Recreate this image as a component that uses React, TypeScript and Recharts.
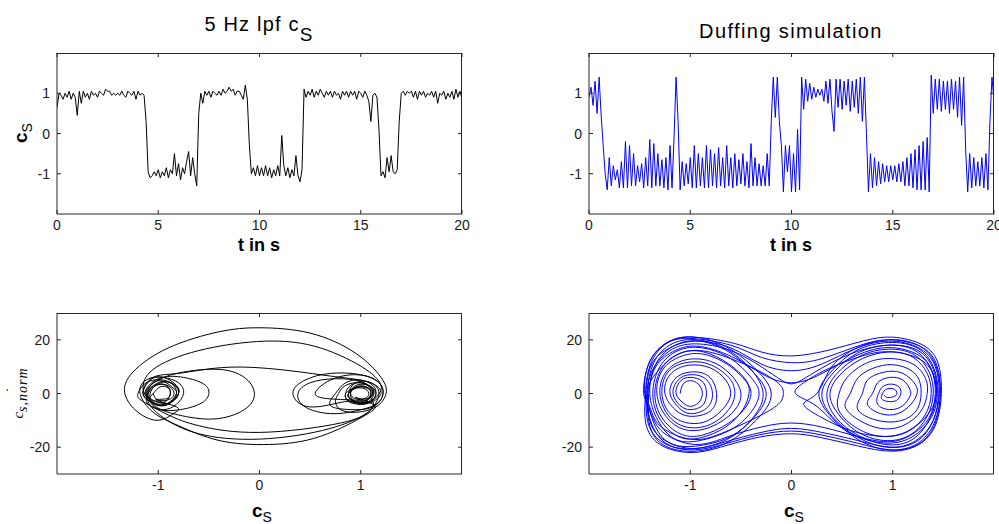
import React from "react";
import { LineChart, Line, XAxis, YAxis } from "recharts";

const FONT = '"Liberation Sans", Arial, Helvetica, sans-serif';
const AXIS = "#262626";
const TICK_LEN = 4;
const X_GAP = 5;
const Y_GAP = 7;
const PLOT_TOP = 53;
const Y_AXIS_W = 57;
const CHART_H = 260;
const X_AXIS_H = 46;

// both signals sampled every 0.1 s, t = 0 .. 20
const lpfSignal = [
  0.65, 1.0, 0.95, 0.85, 1.0, 0.9, 1.05, 0.85, 1.0, 0.9,
  0.45, 1.05, 0.75, 1.05, 0.9, 1.0, 0.85, 1.05, 0.95, 1.0,
  0.9, 1.05, 1.0, 0.95, 1.1, 1.05, 1.05, 0.95, 1.0, 0.95,
  1.0, 0.95, 1.05, 0.95, 0.9, 1.05, 1.0, 0.95, 1.05, 0.85,
  1.05, 0.95, 1.0, 0.95, 0.3, -0.95, -1.1, -1.05, -0.95, -1.05,
  -0.9, -1.1, -0.95, -1.05, -0.85, -1.1, -0.9, -1.0, -0.5, -1.05,
  -0.75, -1.15, -0.85, -1.0, -0.7, -0.45, -1.05, -0.6, -1.0, -1.3,
  0.5, 1.0, 0.75, 1.05, 0.95, 1.05, 0.9, 1.05, 1.0, 0.95,
  1.05, 0.95, 1.1, 1.0, 1.05, 1.15, 1.05, 1.1, 0.95, 1.05,
  1.05, 0.95, 0.85, 1.2, 0.85, -0.3, -1.0, -0.85, -1.05, -0.8,
  -1.05, -0.85, -1.05, -0.8, -1.05, -0.85, -1.1, -0.9, -1.05, -0.8,
  -1.05, -0.05, -0.8, -1.05, -0.85, -1.1, -0.9, -1.05, -0.55, -1.05,
  -1.2, -0.9, 1.1, 0.9, 1.05, 0.95, 1.1, 0.9, 1.05, 0.95,
  1.1, 1.0, 0.9, 1.05, 0.95, 1.05, 0.9, 1.05, 0.95, 1.0,
  0.85, 1.05, 0.95, 1.05, 0.9, 1.05, 0.95, 1.05, 0.85, 1.05,
  1.0, 0.9, 1.05, 0.95, 0.8, 0.3, 0.95, 1.0, 0.9, 0.1,
  -1.05, -0.95, -1.1, -0.6, -0.95, -0.55, -0.95, -1.0, -0.9, 0.3,
  1.0, 1.05, 0.95, 1.05, 1.0, 1.05, 0.9, 1.05, 0.85, 1.05,
  0.95, 1.05, 0.9, 1.0, 0.95, 1.05, 0.9, 1.05, 0.75, 1.0,
  0.95, 1.05, 0.85, 1.0, 0.9, 1.05, 0.85, 1.1, 0.9, 1.05,
  0.85,
];

const duffingSignal = [
  0.9, 1.15, 0.7, 1.3, 0.5, 1.4, 0.45, -0.3, -1.0, -1.4,
  -0.6, -1.3, -0.8, -1.15, -0.9, -1.35, -0.7, -1.35, -0.2, -1.35,
  -0.3, -1.3, -0.5, -1.3, -0.8, -1.2, -0.75, -1.35, -0.6, -1.3,
  -0.15, -1.35, -0.25, -1.3, -0.5, -1.3, -0.65, -1.35, -0.6, -1.4,
  -0.3, -1.35, -0.1, 1.4, 0.3, -1.4, -0.7, -1.3, -0.75, -1.25,
  -0.6, -1.35, -0.3, -1.35, -0.5, -1.3, -0.6, -1.35, -0.3, -1.35,
  -0.4, -1.3, -0.5, -1.35, -0.35, -1.3, -0.6, -1.35, -0.3, -1.3,
  -0.6, -1.35, -0.5, -1.3, -0.65, -1.25, -0.5, -1.3, -0.7, -1.35,
  -0.25, -1.3, -0.6, -1.3, -0.75, -1.3, -0.8, -1.3, -0.5, -1.3,
  0.3, 1.4, 0.4, 1.4, 0.3, -0.3, -1.45, -0.3, -0.95, -0.3,
  -1.45, -0.5, -1.45, 0.1, -1.4, 1.4, 0.6, 1.35, 0.8, 1.25,
  0.85, 1.15, 0.9, 1.1, 0.95, 1.1, 0.8, 1.3, 0.75, 1.35,
  0.55, 0.05, 1.35, 0.65, 1.35, 0.6, 1.3, 0.7, 1.35, 0.55,
  1.3, 0.65, 1.35, 0.5, 1.4, 0.3, 1.4, 0.0, -1.45, -0.5,
  -1.35, -0.6, -1.3, -0.7, -1.25, -0.75, -1.2, -0.8, -1.2, -0.8,
  -1.15, -0.8, -1.2, -0.75, -1.2, -0.7, -1.3, -0.6, -1.3, -0.5,
  -1.35, -0.4, -1.4, -0.3, -1.4, -0.2, -1.4, -0.1, -1.45, 1.45,
  0.5, 1.35, 0.6, 1.35, 0.55, 1.3, 0.6, 1.3, 0.5, 1.35,
  0.6, 1.3, 0.4, 1.4, 0.2, 1.4, -0.4, -1.45, -0.5, -1.35,
  -0.6, -1.3, -0.7, -1.3, -0.6, -1.35, -0.5, -1.4, 0.3, 1.4,
  0.8,
];

const timeTicks = [0, 5, 10, 15, 20];
const signalTicks = [-1, 0, 1];
const phaseXTicks = [-1, 0, 1];
const phaseYTicks = [-20, 0, 20];

// phase portrait of the filtered signal: [c_s, c_s' normalised]
const lpfPhase: [number, number][] = [
  [-1.12, 0], [-1.05, 4], [-0.95, 4.5], [-0.85, 2], [-0.82, 0], [-0.88, -3], [-0.98, -4.5], [-1.08, -3],
  [-1.15, 0], [-1.08, 5], [-0.95, 6], [-0.8, 4], [-0.75, 0], [-0.82, -4], [-0.95, -6], [-1.1, -4],
  [-1.1, 0], [-1.02, 3], [-0.92, 3], [-0.88, 0], [-0.93, -3], [-1.02, -3],
  [-1.13, 0], [-1.0, 5.5], [-0.75, 6], [-0.55, 3.5], [-0.5, 0], [-0.57, -3.5], [-0.78, -6], [-1.02, -5.5],
  [-1.08, 0], [-0.98, 4], [-0.85, 3.5], [-0.8, 0], [-0.86, -3], [-0.98, -3.5],
  [-1.12, 0], [-1.0, 5], [-0.75, 8], [-0.4, 9], [-0.15, 6], [-0.05, 0], [-0.15, -6], [-0.45, -9.5], [-0.8, -8], [-1.02, -5],
  [-1.1, 0], [-1.0, 4], [-0.88, 4], [-0.82, 0], [-0.9, -4], [-1.02, -4],
  [-1.15, 0], [-1.05, 6], [-0.8, 7.5], [-0.3, 9.8], [0.3, 8.5], [0.7, 6.5], [1.0, 5], [1.15, 3], [1.2, 0], [1.12, -3], [1.0, -4], [0.88, -3],
  [0.85, 0], [0.9, 3], [1.0, 4], [1.1, 2.5], [1.13, 0], [1.08, -3], [0.98, -3.5], [0.9, -2],
  [0.88, 0], [0.95, 2.5], [1.05, 2.5], [1.1, 0], [1.05, -2.5], [0.95, -2.5], [0.7, -2],
  [0.55, 0], [0.7, 5], [0.95, 7], [1.15, 5], [1.22, 0], [1.12, -5], [0.9, -6], [0.7, -4.5],
  [0.75, 0], [0.85, 4], [1.0, 5], [1.12, 3], [1.15, 0], [1.1, -3], [0.98, -4], [0.85, -3], [0.5, -5],
  [0.33, 0], [0.45, 5], [0.7, 7.5], [1.0, 7], [1.18, 4], [1.22, 0], [1.15, -4], [0.95, -6.5], [0.7, -7.5], [0.45, -5],
  [0.38, 0], [0.5, 4], [0.75, 5.5], [1.0, 4.5], [1.1, 2], [1.12, 0], [1.05, -2.5], [0.95, -3], [0.88, -1.5],
  [0.88, 0], [0.95, 2], [1.05, 2.5], [1.12, 0], [1.05, -2], [0.95, -2],
  [0.9, 0], [0.95, 3], [1.08, 3], [1.15, 0], [1.08, -3], [0.93, -3],
  [0.88, 0], [0.95, 4], [1.1, 4], [1.18, 0], [1.1, -6], [0.8, -11], [0.0, -14.5], [-0.6, -12], [-0.9, -8], [-1.15, -3],
  [-1.2, 0], [-1.12, 4], [-0.95, 5], [-0.82, 2.5], [-0.8, 0], [-0.87, -3], [-1.0, -4], [-1.08, -2],
  [-1.05, 0], [-0.98, 2.5], [-0.9, 2], [-0.88, 0], [-0.93, -2], [-1.02, -2.5], [-0.82, -5],
  [-0.85, -7.5], [-1.0, -10], [-1.2, -7],
  [-1.33, 0], [-1.25, 8], [-0.9, 17], [-0.4, 23], [0.0, 24.5], [0.5, 22.5], [0.95, 15], [1.2, 6], [1.25, 0], [1.15, -5], [0.95, -7], [0.8, -6], [0.75, -3],
  [0.78, 0], [0.85, 3], [1.0, 4], [1.1, 2], [1.12, 0], [1.05, -3], [0.95, -3], [0.9, -1],
  [0.92, 1.5], [1.02, 2], [1.08, 0], [1.02, -2], [0.95, -1.5], [1.12, -4],
  [1.05, -8], [0.6, -16], [0.1, -19], [-0.4, -17.5], [-0.8, -12], [-1.05, -7],
  [-1.18, 0], [-1.12, 5], [-0.95, 6], [-0.82, 3], [-0.8, 0], [-0.88, -3.5], [-1.0, -4.5], [-1.1, -2],
  [-1.15, 2], [-1.05, 9], [-0.6, 16], [0.05, 19.5], [0.6, 17], [1.05, 9], [1.2, 3], [1.18, 0], [1.1, -3], [0.95, -3.5], [0.85, -1.5],
  [0.88, 1], [1.0, 2.5], [1.1, 1], [1.1, -1.5],
  [1.1, -6], [0.7, -13], [0.0, -17], [-0.6, -15], [-0.95, -9], [-1.1, -3],
  [-1.08, 2], [-0.95, 3.5], [-0.85, 1], [-0.88, -2], [-1.0, -2.5], [-1.05, 0],
];

// phase portrait of the Duffing simulation
const duffingPhase: [number, number][] = [
  // left well, growing outwards
  [-1.1, 0], [-1.07, 3.5], [-1.0, 4.8], [-0.92, 3.5], [-0.88, 0], [-0.92, -3.5], [-1.0, -4.8], [-1.07, -3.5],
  [-1.14, 0], [-1.1, 4.5], [-1.0, 6], [-0.88, 4.5], [-0.84, 0], [-0.88, -4.5], [-1.0, -6], [-1.1, -4.5],
  [-1.17, 0], [-1.12, 5], [-1.0, 7], [-0.85, 5.5], [-0.78, 0], [-0.84, -5.5], [-1.0, -7.5], [-1.12, -5],
  [-1.2, 0], [-1.15, 5.5], [-1.0, 8], [-0.82, 6.5], [-0.74, 0], [-0.8, -6.5], [-1.0, -8.5], [-1.15, -6],
  [-1.25, 0], [-1.2, 7], [-1.02, 10.5], [-0.8, 9.5], [-0.65, 5], [-0.6, 0], [-0.66, -5], [-0.82, -10], [-1.02, -11], [-1.2, -7.5],
  [-1.28, 0], [-1.22, 8], [-1.04, 11.5], [-0.82, 11], [-0.62, 6], [-0.56, 0], [-0.62, -6], [-0.8, -11.5], [-1.04, -12.5], [-1.22, -8],
  [-1.3, 0], [-1.24, 8], [-1.05, 12.5], [-0.8, 12], [-0.6, 7], [-0.5, 0], [-0.58, -7], [-0.8, -12.5], [-1.05, -13.5], [-1.24, -8.5],
  [-1.33, 0], [-1.27, 9], [-1.08, 14], [-0.85, 14.5], [-0.6, 10], [-0.44, 4], [-0.4, 0], [-0.45, -5], [-0.62, -11], [-0.88, -15.5], [-1.1, -15], [-1.28, -9],
  [-1.35, 0], [-1.28, 9.5], [-1.1, 15], [-0.87, 15.5], [-0.62, 11], [-0.45, 5], [-0.42, 0], [-0.48, -6], [-0.65, -12.5], [-0.9, -16.5], [-1.12, -16], [-1.3, -9.5],
  [-1.37, 0], [-1.3, 10], [-1.12, 16], [-0.88, 17], [-0.6, 13], [-0.4, 6], [-0.32, 0], [-0.4, -7], [-0.6, -13.5], [-0.9, -17.5], [-1.15, -17], [-1.32, -10],
  [-1.4, 0], [-1.34, 11], [-1.15, 18], [-0.9, 19.5], [-0.62, 15.5], [-0.38, 8], [-0.25, 0], [-0.36, -8.5], [-0.6, -16], [-0.92, -19.5], [-1.2, -18.5], [-1.36, -11],
  [-1.42, 0], [-1.36, 11.5], [-1.18, 18.5], [-0.93, 20], [-0.64, 16.5], [-0.4, 9], [-0.28, 0], [-0.38, -9], [-0.63, -17], [-0.95, -20.5], [-1.22, -19], [-1.38, -11.5],
  [-1.44, 0], [-1.38, 12], [-1.2, 19.5], [-0.95, 21], [-0.65, 17.5], [-0.38, 10], [-0.2, 0], [-0.35, -10], [-0.62, -18], [-0.95, -21.5], [-1.25, -19.5], [-1.4, -12],
  [-1.42, 0], [-1.35, 7], [-1.15, 14], [-0.9, 16], [-0.6, 13], [-0.3, 8], [-0.12, 3.5], [-0.08, 0], [-0.13, -4], [-0.35, -9], [-0.7, -15], [-1.0, -17], [-1.3, -12], [-1.4, -5],
  // orbits around both wells
  [-1.46, 0], [-1.41, 11], [-1.25, 18.5], [-1.0, 21], [-0.6, 19], [-0.3, 15.5], [0.0, 14], [0.35, 16], [0.7, 19.5], [1.0, 21], [1.3, 18], [1.45, 11],
  [1.48, 0], [1.43, -11], [1.28, -18.5], [1.0, -21.5], [0.65, -19.5], [0.3, -16.5], [0.0, -15], [-0.35, -16.5], [-0.7, -20], [-1.0, -22], [-1.3, -19], [-1.44, -11],
  [-1.44, 0], [-1.38, 11], [-1.2, 17], [-0.95, 19.5], [-0.6, 17], [-0.3, 11], [0.0, 8.5], [0.3, 11], [0.65, 17], [1.0, 19.5], [1.28, 16.5], [1.42, 10],
  [1.46, 0], [1.4, -10], [1.25, -17], [1.0, -20], [0.65, -17.5], [0.3, -14.5], [0.0, -13], [-0.3, -14.5], [-0.65, -18], [-0.98, -20.5], [-1.27, -17], [-1.4, -10],
  [-1.41, 0], [-1.34, 10], [-1.15, 16], [-0.9, 17.5], [-0.55, 13], [-0.25, 6.5], [0.0, 4], [0.25, 6.5], [0.55, 12.5], [0.9, 17], [1.22, 15], [1.38, 9],
  [1.42, 0], [1.36, -9], [1.2, -15], [0.95, -18], [0.6, -15.5], [0.3, -12.5], [0.0, -11], [-0.3, -12.5], [-0.62, -16], [-0.95, -19], [-1.25, -15], [-1.37, -9],
  [-1.45, 0], [-1.4, 12], [-1.22, 19], [-0.98, 20.5], [-0.6, 18], [-0.3, 13.5], [0.0, 11.5], [0.3, 13], [0.68, 18], [1.0, 20], [1.3, 17], [1.44, 10],
  [1.47, 0], [1.42, -10], [1.27, -18], [1.0, -21], [0.65, -18.5], [0.3, -15.5], [0.0, -14], [-0.33, -15.5], [-0.68, -19], [-1.0, -21], [-1.28, -18], [-1.42, -10.5],
  [-1.43, 0], [-1.37, 9], [-1.2, 16], [-0.95, 18.5], [-0.6, 16], [-0.3, 10], [-0.1, 5], [0.0, 3.6], [0.1, 5], [0.3, 9.5], [0.6, 15], [0.95, 18], [1.25, 16], [1.4, 9],
  [1.44, 0], [1.38, -9], [1.2, -16], [0.95, -18.5], [0.65, -16], [0.4, -10], [0.22, -4],
  // right well, shrinking inwards
  [0.04, 0], [0.12, 4], [0.35, 9], [0.7, 14], [1.0, 15.5], [1.3, 12], [1.42, 5], [1.43, 0], [1.38, -6], [1.2, -13], [0.95, -16], [0.6, -14], [0.3, -9], [0.12, -4],
  [0.25, 0], [0.38, 9], [0.62, 16.5], [0.95, 20], [1.25, 18], [1.42, 11], [1.47, 0], [1.42, -11], [1.25, -19], [0.95, -21], [0.65, -17], [0.4, -9],
  [0.27, 0], [0.4, 8.5], [0.64, 16], [0.96, 19], [1.24, 17], [1.4, 10], [1.45, 0], [1.4, -10], [1.23, -18], [0.94, -20], [0.64, -16], [0.4, -8.5],
  [0.3, 0], [0.42, 8], [0.65, 15], [0.95, 18], [1.22, 16], [1.38, 9], [1.43, 0], [1.37, -9], [1.2, -17], [0.93, -19], [0.63, -15], [0.42, -8],
  [0.35, 0], [0.45, 7.5], [0.68, 14], [0.96, 16.5], [1.21, 14.5], [1.36, 8], [1.4, 0], [1.34, -8.5], [1.17, -15.5], [0.91, -17.5], [0.64, -14], [0.45, -7],
  [0.38, 0], [0.48, 7], [0.7, 13], [0.97, 15.5], [1.2, 13.5], [1.34, 7.5], [1.38, 0], [1.32, -8], [1.15, -14], [0.9, -16], [0.65, -13], [0.47, -6.5],
  [0.47, 0], [0.55, 6], [0.75, 11.5], [1.0, 13], [1.22, 10.5], [1.33, 5], [1.34, 0], [1.28, -6.5], [1.1, -12], [0.88, -13], [0.67, -10], [0.53, -5],
  [0.58, 0], [0.66, 6], [0.85, 10], [1.05, 10.5], [1.23, 7], [1.28, 0], [1.22, -7], [1.03, -10.5], [0.8, -9.5], [0.65, -5.5],
  [0.7, 0], [0.75, 5], [0.92, 8], [1.1, 7.5], [1.22, 3.5], [1.24, 0], [1.18, -4], [1.05, -7.5], [0.88, -7.5], [0.75, -4],
  [0.8, 0], [0.85, 4], [0.97, 6], [1.1, 5], [1.17, 1.5], [1.17, -1], [1.1, -4.5], [0.97, -6], [0.85, -4],
  [0.86, 0], [0.9, 2.5], [0.98, 3.5], [1.06, 2.5], [1.08, 0], [1.04, -2.5], [0.96, -3], [0.89, -2],
  [0.9, 0], [0.93, 1.5], [1.0, 1.8], [1.04, 0.5], [1.02, -1], [0.95, -1.5], [0.91, -0.5],
];

const lpfTime = lpfSignal.map((v, i) => ({ t: i / 10, v }));
const duffingTime = duffingSignal.map((v, i) => ({ t: i / 10, v }));
const lpfPhaseData = lpfPhase.map(([x, y]) => ({ x, y }));
const duffingPhaseData = duffingPhase.map(([x, y]) => ({ x, y }));

const tickText = { fontFamily: FONT, fontSize: 14, fill: "#1a1a1a" };

// x tick: label below, inward marks on the bottom and the top edge
function XTick(props: any) {
  const { x, y, payload } = props;
  const base = y - X_GAP;
  return (
    <g>
      <path d={`M${x},${base}V${base - TICK_LEN}M${x},${PLOT_TOP}V${PLOT_TOP + TICK_LEN}`} stroke={AXIS} fill="none" />
      <text x={x} y={y} dy="0.75em" textAnchor="middle" {...tickText}>{payload.value}</text>
    </g>
  );
}

// y tick: label left, inward marks on the left and the right edge
function YTick(props: any) {
  const { x, y, payload, rightEdge } = props;
  const base = x + Y_GAP;
  return (
    <g>
      <path d={`M${base},${y}H${base + TICK_LEN}M${rightEdge},${y}H${rightEdge - TICK_LEN}`} stroke={AXIS} fill="none" />
      <text x={x} y={y} dy="0.36em" textAnchor="end" {...tickText}>{payload.value}</text>
    </g>
  );
}

interface PanelProps {
  left: number;
  top: number;
  width: number;
  right: number;
  data: { [k: string]: number }[];
  xKey: string;
  yKey: string;
  xDomain: [number, number];
  yDomain: [number, number];
  xTicks: number[];
  yTicks: number[];
  color: string;
  curve: "linear" | "natural";
}

const Panel: React.FC<PanelProps> = (p) => {
  const rightEdge = p.width - p.right;
  return (
    <div style={{ position: "absolute", left: p.left, top: p.top, width: p.width, height: CHART_H }}>
      <LineChart width={p.width} height={CHART_H} data={p.data} margin={{ top: PLOT_TOP, right: p.right, bottom: 0, left: 0 }}>
        <XAxis dataKey={p.xKey} type="number" domain={p.xDomain} ticks={p.xTicks} interval={0}
          allowDataOverflow height={X_AXIS_H} tickSize={0} tickMargin={X_GAP} tickLine={false}
          axisLine={{ stroke: AXIS }} tick={<XTick />} />
        <YAxis type="number" domain={p.yDomain} ticks={p.yTicks} interval={0} allowDataOverflow
          width={Y_AXIS_W} tickSize={0} tickMargin={Y_GAP} tickLine={false} axisLine={{ stroke: AXIS }}
          tick={<YTick rightEdge={rightEdge} />} />
        <Line dataKey={p.yKey} type={p.curve} stroke={p.color} strokeWidth={1}
          dot={false} activeDot={false} isAnimationActive={false} />
      </LineChart>
      {/* top and right edges of the axes box */}
      <div style={{
        position: "absolute", left: Y_AXIS_W, top: PLOT_TOP, width: rightEdge - Y_AXIS_W,
        height: CHART_H - X_AXIS_H - PLOT_TOP, boxSizing: "border-box",
        borderTop: `1px solid ${AXIS}`, borderRight: `1px solid ${AXIS}`, pointerEvents: "none",
      }} />
    </div>
  );
};

const abs = (left: number, top: number): React.CSSProperties => ({
  position: "absolute",
  left,
  top,
  whiteSpace: "nowrap",
  lineHeight: 1,
  color: "#000",
});

const Sub: React.FC<{ children: React.ReactNode; size: number; drop: number }> = ({ children, size, drop }) => (
  <span style={{ fontSize: size, fontWeight: "normal", position: "relative", top: drop }}>{children}</span>
);

const CsLabel: React.FC<{ x: number; y: number; rotate?: boolean }> = ({ x, y, rotate }) => (
  <div style={{ ...abs(x, y), fontSize: 19, fontWeight: "bold", transform: `translate(-50%, -50%)${rotate ? " rotate(-90deg)" : ""}` }}>
    c<Sub size={14} drop={5}>S</Sub>
  </div>
);

export default function App() {
  return (
    <div style={{ position: "absolute", left: 0, top: 0, width: 999, height: 524, background: "#fff", fontFamily: FONT, color: "#000", overflow: "hidden" }}>
      <div style={{ ...abs(259, 14), fontSize: 20, letterSpacing: 1.2, transform: "translateX(-50%)" }}>
        5 Hz lpf c<Sub size={19} drop={10}>S</Sub>
      </div>
      <div style={{ ...abs(791, 21), fontSize: 20, letterSpacing: 1.4, transform: "translateX(-50%)" }}>
        Duffing simulation
      </div>

      <Panel left={0} top={0} width={499} right={37} data={lpfTime} xKey="t" yKey="v"
        xDomain={[0, 20]} yDomain={[-2, 2]} xTicks={timeTicks} yTicks={signalTicks} color="#000000" curve="linear" />
      <Panel left={532} top={0} width={467} right={5} data={duffingTime} xKey="t" yKey="v"
        xDomain={[0, 20]} yDomain={[-2, 2]} xTicks={timeTicks} yTicks={signalTicks} color="#0000ff" curve="linear" />
      <Panel left={0} top={260} width={499} right={37} data={lpfPhaseData} xKey="x" yKey="y"
        xDomain={[-2, 2]} yDomain={[-30, 30]} xTicks={phaseXTicks} yTicks={phaseYTicks} color="#000000" curve="natural" />
      <Panel left={532} top={260} width={467} right={5} data={duffingPhaseData} xKey="x" yKey="y"
        xDomain={[-2, 2]} yDomain={[-30, 30]} xTicks={phaseXTicks} yTicks={phaseYTicks} color="#0000ff" curve="natural" />

      <div style={{ ...abs(259, 236), fontSize: 18, fontWeight: "bold", transform: "translateX(-50%)" }}>t in s</div>
      <div style={{ ...abs(791, 236), fontSize: 18, fontWeight: "bold", transform: "translateX(-50%)" }}>t in s</div>
      <CsLabel x={20} y={133} rotate />
      <CsLabel x={262} y={510} />
      <CsLabel x={794} y={510} />

      <div style={{ ...abs(18, 393), fontFamily: '"Liberation Serif", "Times New Roman", serif', fontStyle: "italic", fontSize: 15, transform: "translate(-50%, -50%) rotate(-90deg)" }}>
        <span style={{ position: "relative" }}>
          c
          <span style={{ position: "absolute", left: 26, top: -6, fontStyle: "normal" }}>˙</span>
        </span>
        <span style={{ fontSize: 14, letterSpacing: 1, position: "relative", top: 4 }}>s,norm</span>
      </div>
    </div>
  );
}
